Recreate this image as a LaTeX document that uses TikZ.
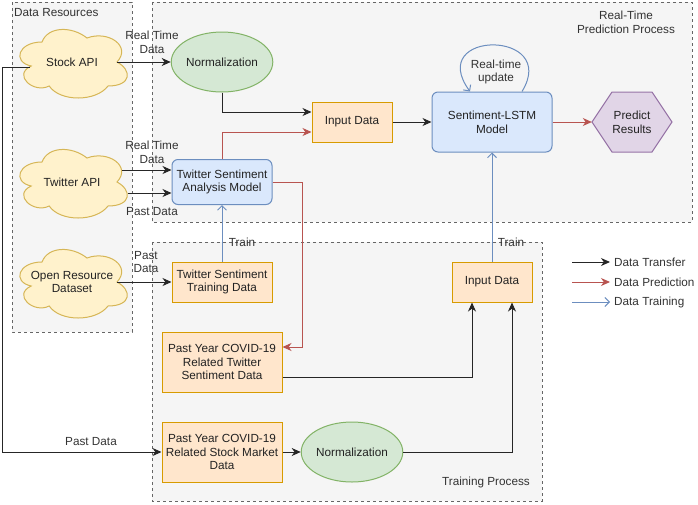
\documentclass[tikz,border=0pt]{standalone}
\usepackage{fontspec}
\setmainfont{Liberation Sans}
\usetikzlibrary{arrows.meta,calc,shapes.geometric}
\definecolor{cfill}{HTML}{F5F5F5}
\definecolor{cstroke}{HTML}{666666}
\definecolor{cloudfill}{HTML}{FFF2CC}
\definecolor{cloudstroke}{HTML}{D6B656}
\definecolor{gfill}{HTML}{D5E8D4}
\definecolor{gstroke}{HTML}{82B366}
\definecolor{ofill}{HTML}{FFE6CC}
\definecolor{ostroke}{HTML}{D79B00}
\definecolor{bfill}{HTML}{DAE8FC}
\definecolor{bstroke}{HTML}{6C8EBF}
\definecolor{pfill}{HTML}{E1D5E7}
\definecolor{pstroke}{HTML}{9673A6}
\definecolor{redline}{HTML}{B85450}
\definecolor{txt}{HTML}{222222}
\definecolor{lbl}{HTML}{333333}
\newcommand\mycloud[4]{%
  \draw[cloudst, shift={(#2-60,#3-40)}] (30,20) .. controls (6,20) and (0,40) .. (19.2,44)
    .. controls (0,52.8) and (21.6,72) .. (37.2,64)
    .. controls (48,80) and (84,80) .. (96,64)
    .. controls (120,64) and (120,48) .. (105,40)
    .. controls (120,24) and (96,8) .. (75,16)
    .. controls (60,4) and (36,4) .. (30,20) -- cycle;
  \node[txtnode, minimum width=90pt, minimum height=60pt] (#1) at (#2,#3) {#4};
}
\begin{document}
\begin{tikzpicture}[x=1pt,y=-1pt,
  font=\fontsize{11.75}{13.6}\selectfont,
  container/.style={draw=cstroke, fill=cfill, dash pattern=on 3pt off 3pt, line width=0.8pt},
  cloudst/.style={draw=cloudstroke, fill=cloudfill, line width=1pt},
  txtnode/.style={align=center, inner sep=0pt, text=txt},
  obox/.style={txtnode, draw=ostroke, fill=ofill, line width=1pt},
  bbox/.style={txtnode, draw=bstroke, fill=bfill, line width=1pt, rounded corners=6pt},
  ell/.style={txtnode, ellipse, draw=gstroke, fill=gfill, line width=1pt, minimum width=80pt, minimum height=60pt},
  lab/.style={align=center, inner sep=0pt, text=lbl},
  tarrow/.style={draw=black!85, line width=1pt, -{Stealth[length=9pt,width=8pt,inset=2.8pt]}},
  rarrow/.style={draw=redline, line width=1pt, -{Stealth[length=9pt,width=8pt,inset=2.8pt]}},
  barrow/.style={draw=bstroke, line width=1pt, -{Straight Barb[length=4.5pt,width=9pt]}},
]
\useasboundingbox (0,0) rectangle (698,504);
% containers
\draw[container] (12,2) rectangle (132,332);
\draw[container] (152,2) rectangle (692,222);
\draw[container] (152,242) rectangle (542,501);
\node[lab, anchor=west] (lblres) at (14,12.5) {Data Resources};
\node[lab] (lblrt) at (626,22.5) {Real-Time\\Prediction Process};
\node[lab] (lbltr) at (486,482) {Training Process};
% clouds
\mycloud{stock}{72}{62}{Stock API}
\mycloud{twapi}{72}{182}{Twitter API}
\mycloud{open}{72}{282}{Open Resource\\Dataset}
% nodes
\node[ell] (norm1) at (222,62) {Normalization};
\node[obox, minimum width=80pt, minimum height=40pt] (inp1) at (352,122) {Input Data};
\node[bbox, minimum width=120pt, minimum height=60pt] (lstm) at (492,122) {Sentiment-LSTM\\Model};
\draw[draw=pstroke, fill=pfill, line width=1pt] (592,122) -- (612,92) -- (652,92) -- (672,122) -- (652,152) -- (612,152) -- cycle;
\node[txtnode, minimum width=80pt, minimum height=60pt] (pred) at (632,122) {Predict\\Results};
\node[bbox, minimum width=100pt, minimum height=45pt] (tsam) at (222,182) {Twitter Sentiment\\Analysis Model};
\node[obox, minimum width=100pt, minimum height=40pt] (tstd) at (222,282) {Twitter Sentiment\\Training Data};
\node[obox, minimum width=120pt, minimum height=60pt] (ptw) at (222,362) {Past Year COVID-19\\Related Twitter\\Sentiment Data};
\node[obox, minimum width=120pt, minimum height=60pt] (psm) at (222,452) {Past Year COVID-19\\Related Stock Market\\Data};
\node[ell] (norm2) at (352,452) {Normalization};
\node[obox, minimum width=80pt, minimum height=40pt] (inp2) at (492,282) {Input Data};
% connectors
\draw[tarrow] (stock.east) -- (norm1.west);
\node[lab] (l1) at (152,42.5) {Real Time\\Data};
\draw[tarrow] ($(twapi.center)+(50,-12)$) -- ($(tsam.west)+(0,-12)$);
\node[lab] (l2) at (152,152.5) {Real Time\\Data};
\draw[tarrow] ($(twapi.center)+(56,11)$) -- ($(tsam.west)+(0,11)$);
\node[lab] (l3) at (152,212) {Past Data};
\draw[tarrow] (norm1.south) |- ($(inp1.west)+(0,-10)$);
\draw[rarrow] (tsam.north) |- ($(inp1.west)+(0,10)$);
\draw[tarrow] (inp1.east) -- (lstm.west);
\draw[rarrow] (lstm.east) -- (pred.west);
\draw[barrow] ($(lstm.north)+(30,0)$) .. controls ($(lstm.north)+(68,-62)$) and ($(lstm.north)+(-67,-62)$) .. ($(lstm.north)+(-22,0)$);
\node[lab] (l4) at (496,72) {Real-time\\update};
\draw[rarrow] (tsam.east) -- ++(30,0) |- ($(ptw.east)+(0,-15)$);
\draw[barrow] (tstd.north) -- (tsam.south);
\node[lab] (l5) at (242,242) {Train};
\draw[tarrow] (open.east) -- (tstd.west);
\node[lab] (l6) at (146,262) {Past\\Data};
\draw[tarrow] ($(ptw.east)+(0,15)$) -| ($(inp2.south)+(-20,0)$);
\draw[tarrow] (norm2.east) -| ($(inp2.south)+(20,0)$);
\draw[tarrow] (psm.east) -- (norm2.west);
\draw[barrow] (inp2.north) -- (lstm.south);
\node[lab] (l7) at (511,242) {Train};
\coordinate (sapi) at ($(stock.center)+(-42,5)$);
\draw[tarrow] (sapi) -- (2,67) |- (psm.west);
\node[lab] (l8) at (91,442) {Past Data};
% legend
\coordinate (la1) at (572,262); \coordinate (lb1) at (610,262);
\coordinate (la2) at (572,282); \coordinate (lb2) at (610,282);
\coordinate (la3) at (572,302); \coordinate (lb3) at (610,302);
\draw[tarrow] (la1) -- (lb1);
\draw[rarrow] (la2) -- (lb2);
\draw[barrow] (la3) -- (lb3);
\node[lab, anchor=west] (lg1) at (614,262) {Data Transfer};
\node[lab, anchor=west] (lg2) at (614,282) {Data Prediction};
\node[lab, anchor=west] (lg3) at (614,302) {Data Training};
\end{tikzpicture}
\end{document}
